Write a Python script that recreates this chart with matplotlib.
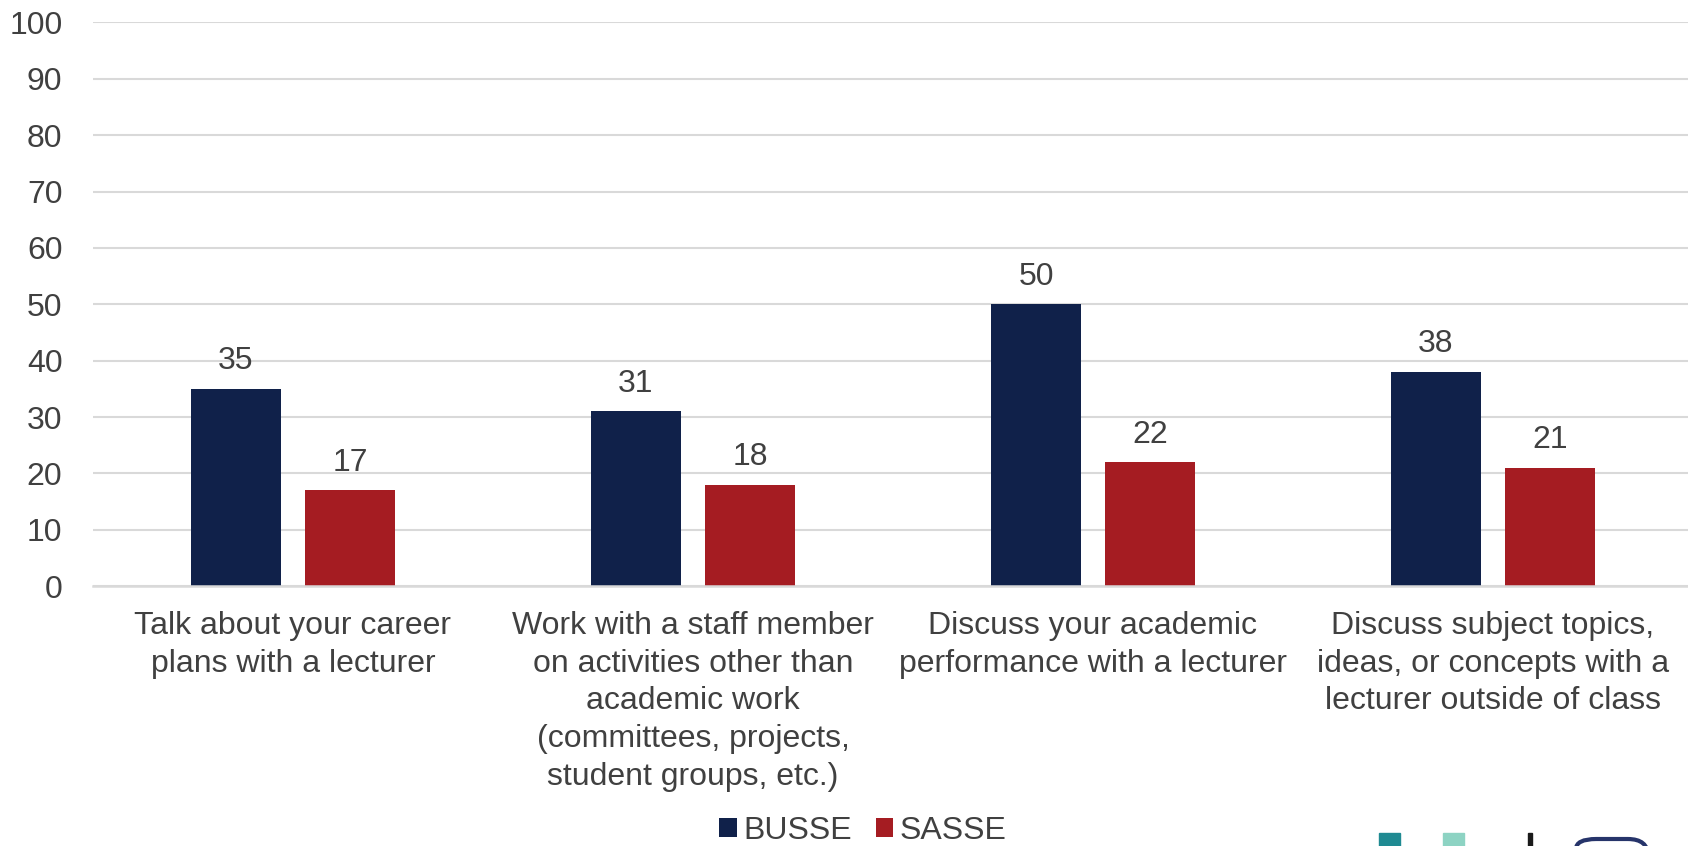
import matplotlib.pyplot as plt
import matplotlib.patches as mpatches
from matplotlib.patches import FancyBboxPatch
import numpy as np

# Chart data
categories = [
    "Talk about your career\nplans with a lecturer",
    "Work with a staff member\non activities other than\nacademic work\n(committees, projects,\nstudent groups, etc.)",
    "Discuss your academic\nperformance with a lecturer",
    "Discuss subject topics,\nideas, or concepts with a\nlecturer outside of class",
]
series_names = ["BUSSE", "SASSE"]
busse = [35, 31, 50, 38]
sasse = [17, 18, 22, 21]
yticks = [0, 10, 20, 30, 40, 50, 60, 70, 80, 90, 100]

NAVY = "#10214A"
RED = "#A51C22"
TEXT = "#404040"
GRID = "#D9D9D9"

plt.rcParams['font.family'] = ['Liberation Sans', 'DejaVu Sans']

W, H = 1688, 846
fig = plt.figure(figsize=(W / 100, H / 100), dpi=100)
# axes spans x 93..1693 px, y 22..586 px
ax = fig.add_axes([93 / W, 1 - 586.3 / H, 1600 / W, (586.3 - 22.3) / H])

x = np.arange(len(categories))
bw = 0.225
off = 0.1425
b1 = ax.bar(x - off, busse, bw, color=NAVY, label=series_names[0], zorder=3)
b2 = ax.bar(x + off, sasse, bw, color=RED, label=series_names[1], zorder=3)

for bars, vals in ((b1, busse), (b2, sasse)):
    for rect, v in zip(bars, vals):
        ax.annotate(str(v), (rect.get_x() + rect.get_width() / 2, v),
                    xytext=(0, 9), textcoords="offset points",
                    ha="center", va="bottom", fontsize=23, color=TEXT)

ax.set_xlim(-0.5, 3.5)
ax.set_ylim(0, 100)
ax.set_yticks(yticks)
ax.yaxis.grid(True, color=GRID, linewidth=1.5, zorder=0)
ax.set_xticks(x)
ax.set_xticklabels(categories, fontsize=23, color=TEXT, linespacing=1.33)
ax.tick_params(axis="y", length=0, pad=22, labelsize=23, labelcolor=TEXT)
ax.tick_params(axis="x", length=0, pad=18)
for side in ("left", "right", "top"):
    ax.spines[side].set_visible(False)
ax.spines["bottom"].set_color(GRID)
ax.spines["bottom"].set_linewidth(1.8)
ax.spines["bottom"].set_zorder(4)

fig.legend(handles=[b1, b2], loc="center", bbox_to_anchor=(863 / W, 1 - 831 / H),
           ncol=2, frameon=False, fontsize=23, labelcolor=TEXT,
           handlelength=0.55, handleheight=0.55, handletextpad=0.2,
           columnspacing=0.75, borderpad=0)

# partial logo strip along the bottom edge
fig.patches.append(mpatches.Rectangle((1379 / W, 0), 21 / W, 13 / H, color="#1F8A92",
                                      transform=fig.transFigure, figure=fig))
fig.patches.append(mpatches.Rectangle((1443 / W, 0), 21 / W, 13 / H, color="#8DD3C3",
                                      transform=fig.transFigure, figure=fig))
fig.patches.append(mpatches.Rectangle((1528 / W, 0), 4 / W, 13 / H, color="#1A1A1A",
                                      transform=fig.transFigure, figure=fig))
fig.patches.append(FancyBboxPatch((1576 / W, -20 / H), 72 / W, 27 / H,
                                  boxstyle="round,pad=0,rounding_size=0.012",
                                  facecolor="none", edgecolor="#26346A", linewidth=3,
                                  transform=fig.transFigure, figure=fig))

fig.savefig("out.png", dpi=100)
